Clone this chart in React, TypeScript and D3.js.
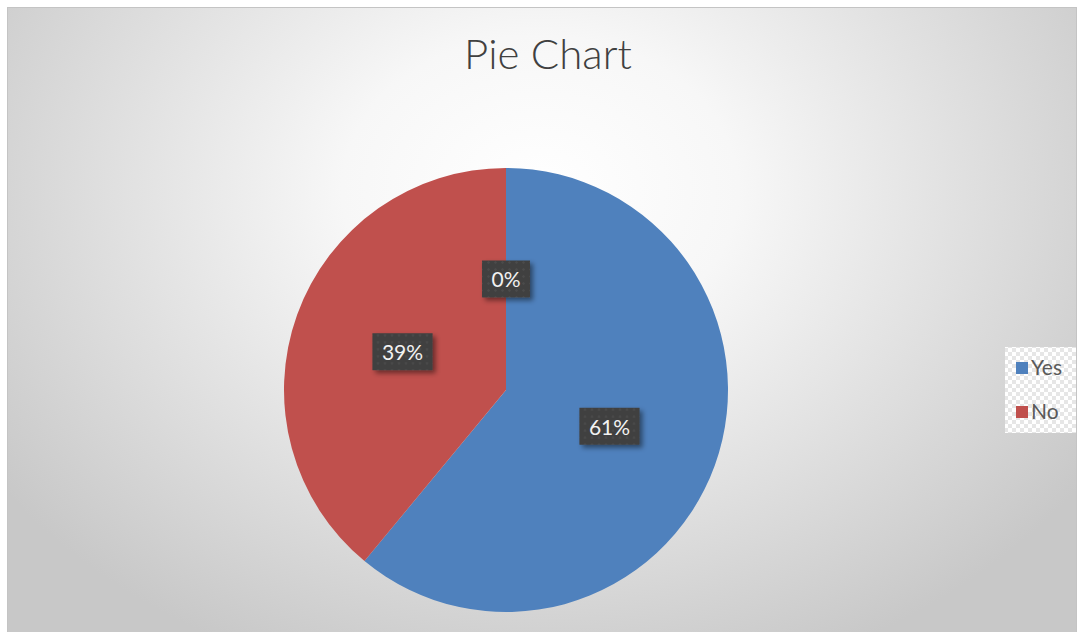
import React, { useEffect, useRef } from "react";
import * as d3 from "d3";

const categories = ["Yes", "No", ""];
const values = [61, 39, 0];
const legendCategories = ["Yes", "No"];
const colors = ["#4F81BD", "#C0504D", "#9BBB59"];
const titleText = "Pie Chart";

const W = 1080;
const H = 632;

export default function App() {
  const ref = useRef<SVGSVGElement | null>(null);

  useEffect(() => {
    const svg = d3.select(ref.current);
    svg.selectAll("*").remove();
    const defs = svg.append("defs");

    const grad = defs
      .append("radialGradient")
      .attr("id", "bg")
      .attr("gradientUnits", "userSpaceOnUse")
      .attr("cx", 540)
      .attr("cy", 190)
      .attr("r", 660)
      .attr("gradientTransform", "translate(540,190) scale(1,0.78) translate(-540,-190)");
    grad.append("stop").attr("offset", "0").attr("stop-color", "#ffffff");
    grad.append("stop").attr("offset", "0.3").attr("stop-color", "#f7f7f7");
    grad.append("stop").attr("offset", "1").attr("stop-color", "#c8c8c8");

    const checker = defs
      .append("pattern")
      .attr("id", "checker")
      .attr("patternUnits", "userSpaceOnUse")
      .attr("width", 8)
      .attr("height", 8);
    checker.append("rect").attr("width", 8).attr("height", 8).attr("fill", "#ffffff");
    checker.append("rect").attr("width", 4).attr("height", 4).attr("fill", "#e6e6e6");
    checker.append("rect").attr("x", 4).attr("y", 4).attr("width", 4).attr("height", 4).attr("fill", "#e6e6e6");

    const dots = defs
      .append("pattern")
      .attr("id", "dots")
      .attr("patternUnits", "userSpaceOnUse")
      .attr("width", 7)
      .attr("height", 7);
    dots.append("rect").attr("width", 7).attr("height", 7).attr("fill", "#3f3f3f");
    dots.append("circle").attr("cx", 3.5).attr("cy", 3.5).attr("r", 1.3).attr("fill", "#4b4b4b");

    const shadow = defs
      .append("filter")
      .attr("id", "shadow")
      .attr("x", "-30%")
      .attr("y", "-30%")
      .attr("width", "160%")
      .attr("height", "160%");
    shadow
      .append("feDropShadow")
      .attr("dx", 3)
      .attr("dy", 3)
      .attr("stdDeviation", 2.5)
      .attr("flood-color", "#000")
      .attr("flood-opacity", 0.45);

    svg
      .append("rect")
      .attr("x", 7.5)
      .attr("y", 7.5)
      .attr("width", 1069)
      .attr("height", 630)
      .attr("fill", "url(#bg)")
      .attr("stroke", "#c4c4c4")
      .attr("stroke-width", 1);

    svg
      .append("text")
      .attr("x", 548)
      .attr("y", 69)
      .attr("text-anchor", "middle")
      .attr("font-family", "Lato, 'Open Sans', sans-serif")
      .attr("font-weight", 300)
      .attr("font-size", 42)
      .attr("fill", "#404040")
      .text(titleText);

    const cx = 506;
    const cy = 390;
    const r = 222;
    const total = d3.sum(values);
    const data = categories.map((c, i) => ({ c, v: values[i], i }));
    const pie = d3.pie<any>().sort(null).value((d: any) => d.v);
    const arcs = pie(data);
    const arc = d3.arc<any>().innerRadius(0).outerRadius(r);
    const labelArc = d3.arc<any>().innerRadius(110).outerRadius(110);

    const g = svg.append("g").attr("transform", `translate(${cx},${cy})`);
    g.selectAll("path.slice")
      .data(arcs)
      .enter()
      .append("path")
      .attr("class", "slice")
      .attr("d", arc as any)
      .attr("fill", (d: any) => colors[d.data.i]);

    arcs.forEach((a: any) => {
      const [lx, ly] = labelArc.centroid(a);
      const lg = g.append("g").attr("transform", `translate(${lx},${ly})`);
      const box = lg.append("rect").attr("fill", "url(#dots)").attr("filter", "url(#shadow)");
      const t = lg
        .append("text")
        .attr("text-anchor", "middle")
        .attr("dy", "0.35em")
        .attr("font-family", "Lato, 'Open Sans', sans-serif")
        .attr("font-size", 21)
        .attr("fill", "#f2f2f2")
        .text(`${Math.round((a.data.v / total) * 100)}%`);
      const tw = (t.node() as SVGTextElement).getComputedTextLength();
      const bw = tw + 19;
      const bh = 37;
      box.attr("x", -bw / 2).attr("y", -bh / 2 - 1).attr("width", bw).attr("height", bh);
    });

    const leg = svg.append("g");
    leg
      .append("rect")
      .attr("x", 1005)
      .attr("y", 347)
      .attr("width", 71)
      .attr("height", 86)
      .attr("fill", "url(#checker)");
    legendCategories.forEach((c, i) => {
      const y = 368 + i * 44;
      leg
        .append("rect")
        .attr("x", 1016)
        .attr("y", y - 6)
        .attr("width", 12)
        .attr("height", 12)
        .attr("fill", colors[i]);
      leg
        .append("text")
        .attr("x", 1031)
        .attr("y", y + 7)
        .attr("font-family", "Lato, 'Open Sans', sans-serif")
        .attr("font-size", 21)
        .attr("fill", "#595959")
        .text(c);
    });
  }, []);

  return (
    <svg
      ref={ref}
      width={W}
      height={H}
      style={{ position: "absolute", left: 0, top: 0, display: "block" }}
    />
  );
}
